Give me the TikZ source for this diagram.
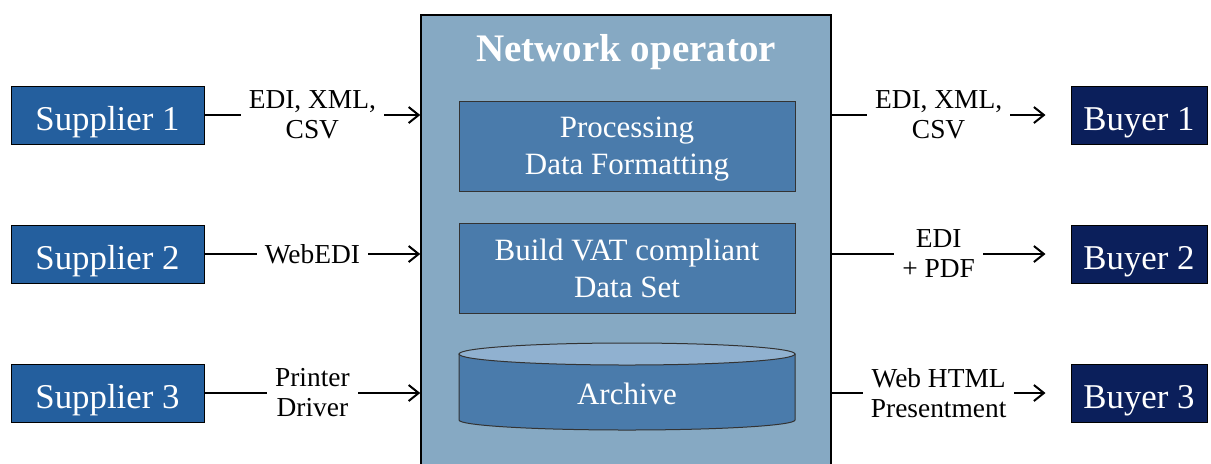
\documentclass[tikz,border=0pt]{standalone}
\usepackage{fontspec}
\setmainfont{Liberation Serif}
\usetikzlibrary{positioning, calc, arrows.meta}
\definecolor{opblue}{HTML}{86A9C3}
\definecolor{boxblue}{HTML}{4A7BAB}
\definecolor{topblue}{HTML}{90B1D0}
\definecolor{supblue}{HTML}{245F9E}
\definecolor{buyblue}{HTML}{0B1F5B}

\begin{document}
\begin{tikzpicture}[
          x = 0.5pt, y = -0.5pt,
          conn/.style = {draw, line width = 1pt, -{Straight Barb[length = 5pt, width = 8pt]}},
          font = \fontsize{15.5}{18.5}\selectfont
        ]
          \tikzstyle {party} = [draw = black, line width = 0.5pt, text = white, inner sep = 0, minimum height = 29pt, text height = 15pt, text depth = 0pt, font = \fontsize{17.4}{20}\selectfont]
          \tikzstyle {supplier} = [party, fill = supblue, minimum width = 96.5pt]
          \tikzstyle {buyer} = [party, fill = buyblue, minimum width = 68pt]
          \tikzstyle {task} = [draw = black!80, line width = 0.5pt, fill = boxblue, text = white, align = center, text depth = 0pt, minimum width = 168pt, minimum height = 45pt]
          \tikzstyle {format} = [fill = white, inner sep = 4pt, align = center, font = \fontsize{13.7}{15}\selectfont]
          \useasboundingbox (0,0) rectangle (1211,463);
          % place nodes
          \path node (op) [draw, fill = opblue, line width = 0.75pt, minimum width = 205pt, minimum height = 232pt, anchor = north] at (626,14) {};
          \path node (title) [text = white, anchor = base, font = \bfseries\fontsize{19.5}{22}\selectfont] at (626,61) {Network operator};
          \path node (proc) [task] at (627,146) {Processing\\Data Formatting};
          \path node (vat) [task] at (627,268) {Build VAT compliant\\Data Set};
          \filldraw [draw = black!80, line width = 0.5pt, fill = boxblue] (459,354) -- (459,420)
            arc [start angle = 180, end angle = 360, x radius = 84pt, y radius = 5pt] -- (795,354) -- cycle;
          \filldraw [draw = black!80, line width = 0.5pt, fill = topblue] (627,354) ellipse [x radius = 84pt, y radius = 5.5pt];
          \path node (archive) [text = white] at (627,394) {Archive};
          \foreach \i/\y in {1/115, 2/254, 3/393}
            { \path node (s\i) [supplier] at (107.5,\y) {Supplier \i};
              \path node (b\i) [buyer] at (1139,\y) {Buyer \i}; } ;
          % place edges
          \foreach \i/\txt in {1/{EDI, XML,\\CSV}, 2/{WebEDI}, 3/{Printer\\Driver}}
            { \draw [conn] (s\i) -- node [format] {\txt} (s\i -| op.west) ; } ;
          \foreach \i/\txt in {1/{EDI, XML,\\CSV}, 2/{EDI\\+ PDF}, 3/{Web HTML\\Presentment}}
            { \draw [conn] (op.east |- b\i) -- node [format] {\txt} ($(b\i.west)+(-25,0)$) ; } ;
        \end{tikzpicture}
\end{document}
